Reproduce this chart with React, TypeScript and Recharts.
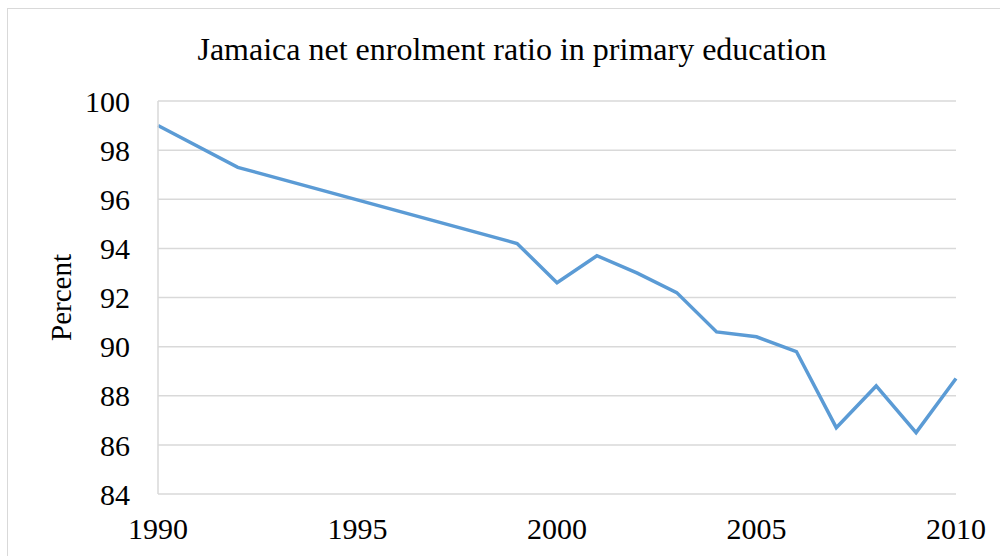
import { CartesianGrid, Line, LineChart, XAxis, YAxis } from "recharts";

const years = [1990, 1992, 1999, 2000, 2001, 2002, 2003, 2004, 2005, 2006, 2007, 2008, 2009, 2010];
const ratio = [99.0, 97.3, 94.2, 92.6, 93.7, 93.0, 92.2, 90.6, 90.4, 89.8, 86.7, 88.4, 86.5, 88.7];
const xTicks = [1990, 1995, 2000, 2005, 2010];
const yTicks = [84, 86, 88, 90, 92, 94, 96, 98, 100];

const data = years.map((year, i) => ({ year, value: ratio[i] }));

const font = "'Liberation Serif', 'Times New Roman', serif";

const App = () => {
  return (
    <div
      style={{
        position: "absolute",
        left: 0,
        top: 0,
        width: 1000,
        height: 556,
        overflow: "hidden",
        background: "#fff",
      }}
    >
      <div
        style={{
          position: "absolute",
          left: 7,
          top: 8,
          width: 1010,
          height: 570,
          border: "1.5px solid #d9d9d9",
        }}
      />
      <LineChart
        width={1000}
        height={556}
        data={data}
        margin={{ top: 101, right: 44, left: 58, bottom: 0 }}
        style={{ position: "absolute", left: 0, top: 0, fontFamily: font }}
      >
        <text
          x={512}
          y={60}
          textAnchor="middle"
          fontFamily={font}
          fontSize={32}
          fill="#000"
        >
          Jamaica net enrolment ratio in primary education
        </text>
        <CartesianGrid vertical={false} stroke="#d9d9d9" strokeWidth={1.5} />
        <XAxis
          dataKey="year"
          type="number"
          domain={[1990, 2010]}
          ticks={xTicks}
          height={62}
          axisLine={false}
          tickLine={false}
          tickMargin={18}
          tick={{ fontFamily: font, fontSize: 30, fill: "#000" }}
        />
        <YAxis
          domain={[84, 100]}
          ticks={yTicks}
          width={100}
          axisLine={{ stroke: "#d9d9d9", strokeWidth: 1.5 }}
          tickLine={false}
          tickMargin={22}
          tick={{ fontFamily: font, fontSize: 30, fill: "#000" }}
          label={{
            value: "Percent",
            angle: -90,
            position: "insideLeft",
            offset: 0,
            dx: 3,
            style: { fontFamily: font, fontSize: 29, fill: "#000", textAnchor: "middle" },
          }}
        />
        <Line
          dataKey="value"
          stroke="#5b9bd5"
          strokeWidth={3.5}
          dot={false}
          isAnimationActive={false}
        />
      </LineChart>
    </div>
  );
};

export default App;
